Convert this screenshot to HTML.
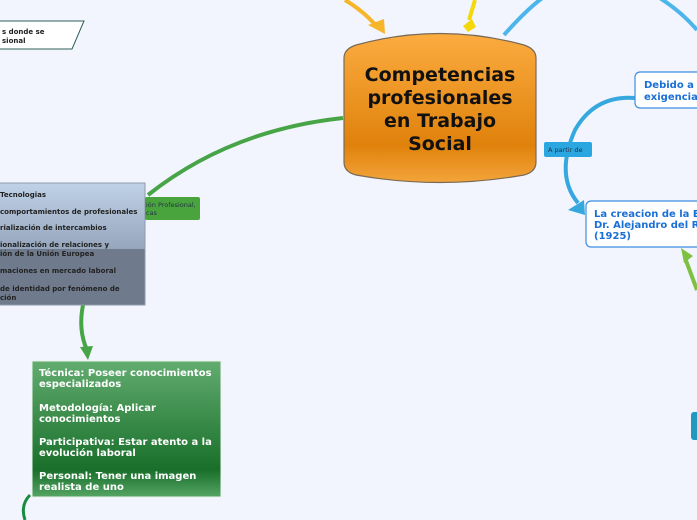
<!DOCTYPE html>
<html><head><meta charset="utf-8"><style>
html,body{margin:0;padding:0;background:#f2f5fe;}
body{width:697px;height:520px;overflow:hidden;position:relative;font-family:"DejaVu Sans","Liberation Sans",sans-serif;}
</style></head><body>
<svg width="697" height="520" viewBox="0 0 697 520" xmlns="http://www.w3.org/2000/svg" style="position:absolute;left:0;top:0">
<defs>
<linearGradient id="og" x1="0" y1="0" x2="0" y2="1">
<stop offset="0" stop-color="#fbac40"/><stop offset="0.75" stop-color="#e0820c"/><stop offset="1" stop-color="#f3a43a"/></linearGradient>
<linearGradient id="gb" x1="0" y1="0" x2="0" y2="1">
<stop offset="0" stop-color="#c0d2e8"/><stop offset="1" stop-color="#96a6bc"/></linearGradient>
<linearGradient id="gg" x1="0" y1="0" x2="0" y2="1">
<stop offset="0" stop-color="#62ac70"/><stop offset="0.8" stop-color="#196f2a"/><stop offset="1" stop-color="#55a565"/></linearGradient>
</defs>
<!-- connectors -->
<path d="M345 0 Q365 12 378 28" stroke="#f7b52a" stroke-width="4" fill="none"/>
<polygon points="368,25 384,19 385,34" fill="#f7b52a"/>
<path d="M475 0 L469 20" stroke="#f5d80a" stroke-width="4" fill="none"/>
<polygon points="463,26 472,19 476,27 468,32" fill="#f5d80a"/>
<path d="M504 35 Q535 0 555 -10" stroke="#4cb6ea" stroke-width="4" fill="none"/>
<path d="M655 -5 Q680 10 697 30" stroke="#4cb6ea" stroke-width="4" fill="none"/>
<path d="M635 98 Q595 95 575 130 Q555 175 578 203" stroke="#36a8de" stroke-width="4" fill="none"/>
<polygon points="568,210 584,200 585,215" fill="#36a8de"/>
<path d="M697 290 L685 258" stroke="#7ec142" stroke-width="4" fill="none"/>
<polygon points="681,248 693,256 684,263" fill="#7ec142"/>
<path d="M343 118 Q230 130 148 195" stroke="#47a447" stroke-width="4" fill="none"/>
<path d="M83 305 Q78 330 87 350" stroke="#47a447" stroke-width="4" fill="none"/>
<polygon points="80,347 93,346 88,360" fill="#47a447"/>
<path d="M30 495 Q20 505 25 520" stroke="#1a8a40" stroke-width="3" fill="none"/>
<!-- central cylinder -->
<path d="M356 45 Q440 22 524 45 Q536 49 536 58 L536 162 Q536 172 524 175 Q440 190 356 175 Q344 172 344 162 L344 58 Q344 49 356 45 Z" fill="url(#og)" stroke="#7a6a55" stroke-width="1.2"/>
<g font-family="'DejaVu Sans','Liberation Sans',sans-serif" font-weight="bold" font-size="19" fill="#111" text-anchor="middle">
<text x="440" y="81">Competencias</text><text x="440" y="104">profesionales</text><text x="440" y="127">en Trabajo</text><text x="440" y="150">Social</text>
</g>
<!-- top left parallelogram -->
<polygon points="-5,21 84,21 72,49 -5,49" fill="#fff" stroke="#2c5f55" stroke-width="1"/>
<text x="2" y="34" font-size="7" font-weight="bold" fill="#222">s  donde se</text>
<text x="2" y="43" font-size="7" font-weight="bold" fill="#222">sional</text>
<!-- gray box -->
<rect x="-5" y="183" width="150" height="66" fill="url(#gb)"/>
<rect x="-5" y="249" width="150" height="56" fill="#6f7b8c"/>
<rect x="-5" y="183" width="150" height="122" fill="none" stroke="#8e9aab" stroke-width="1"/>
<g font-size="7" font-weight="bold" fill="#222">
<text x="0" y="197">Tecnologias</text>
<text x="0" y="214">comportamientos de profesionales</text>
<text x="0" y="230">rialización de intercambios</text>
<text x="0" y="247">ionalización de relaciones y</text>
<text x="0" y="256">ión de la Unión Europea</text>
<text x="0" y="273">maciones en mercado laboral</text>
<text x="0" y="291">de identidad por fenómeno de</text>
<text x="0" y="300">ción</text>
</g>
<rect x="145" y="197" width="55" height="23" rx="2" fill="#4aa43e"/>
<text x="146" y="207" font-size="6.5" fill="#234">ión Profesional,</text>
<text x="146" y="215" font-size="6.5" fill="#234">cas</text>
<!-- green box -->
<rect x="32" y="361" width="189" height="136" fill="url(#gg)" stroke="#e8f2e8" stroke-width="1"/>
<g font-size="10" font-weight="bold" fill="#fff">
<text x="39" y="376">Técnica: Poseer conocimientos</text>
<text x="39" y="387">especializados</text>
<text x="39" y="411">Metodología: Aplicar</text>
<text x="39" y="422">conocimientos</text>
<text x="39" y="445">Participativa: Estar atento a la</text>
<text x="39" y="456">evolución laboral</text>
<text x="39" y="479">Personal: Tener una imagen</text>
<text x="39" y="490">realista de uno</text>
</g>
<!-- right boxes -->
<rect x="544" y="142" width="48" height="15" rx="2" fill="#2aa6e0"/>
<text x="548" y="152" font-size="6.5" fill="#234">A partir de</text>
<rect x="635" y="72" width="70" height="36" rx="5" fill="#fff" stroke="#3c8ee0" stroke-width="1.2"/>
<text x="644" y="88" font-size="10" font-weight="bold" fill="#1a6fd6">Debido a</text>
<text x="644" y="100" font-size="10" font-weight="bold" fill="#1a6fd6">exigencia</text>
<rect x="586" y="201" width="120" height="46" rx="5" fill="#fff" stroke="#3c8ee0" stroke-width="1.2"/>
<text x="594" y="217" font-size="10" font-weight="bold" fill="#1a6fd6">La creacion de la Es</text>
<text x="594" y="228" font-size="10" font-weight="bold" fill="#1a6fd6">Dr. Alejandro del Ri</text>
<text x="594" y="239" font-size="10" font-weight="bold" fill="#1a6fd6">(1925)</text>
<rect x="691" y="412" width="12" height="28" rx="3" fill="#1e9ac0"/>
</svg>
</body></html>
